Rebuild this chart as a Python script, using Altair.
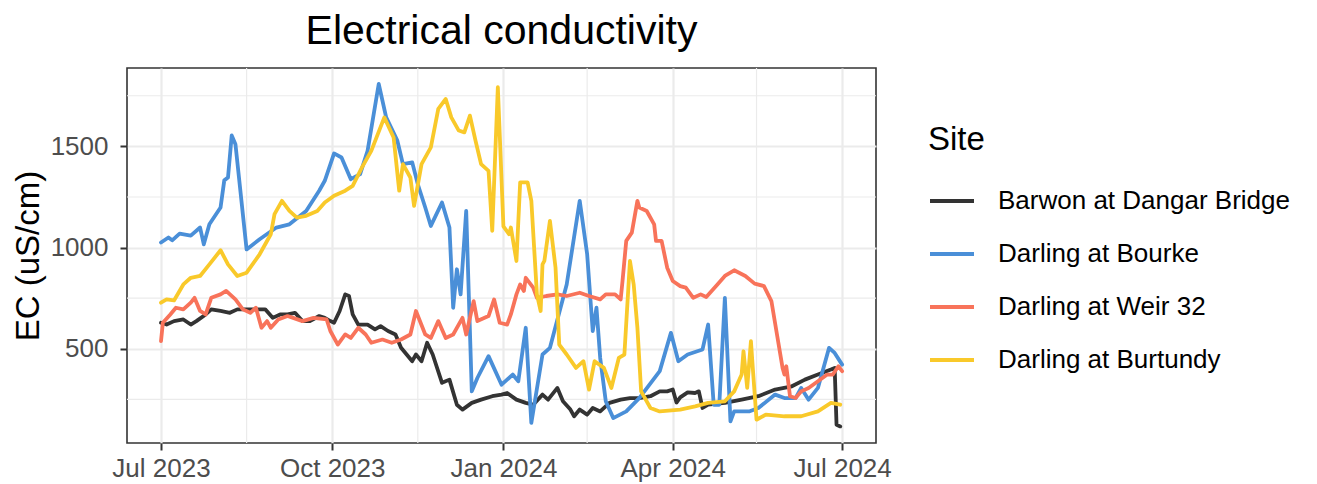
import altair as alt
import pandas as pd

# Days since 2023-07-01 and EC values (uS/cm)
START = "2023-07-01"
sites = ["Barwon at Dangar Bridge", "Darling at Bourke", "Darling at Weir 32", "Darling at Burtundy"]
colors = ["#333333", "#4a8fd8", "#f8735a", "#f9c92a"]

barwon_day = [0, 3, 7, 12, 16, 19, 24, 27, 32, 37, 41, 46, 51, 56, 60, 64, 68, 72, 76, 80,
              85, 88, 91, 93, 96, 99, 101, 103, 106, 111, 115, 118, 122, 126, 129, 135, 137, 140, 143, 146,
              151, 155, 159, 162, 167, 172, 178, 183, 186, 191, 196, 200, 205, 208, 213, 216, 220, 222, 225, 229,
              232, 236, 241, 247, 252, 257, 263, 268, 272, 275, 277, 279, 283, 287, 289, 291, 294, 303, 312, 321,
              330, 339, 346, 353, 360, 362, 363, 365]
barwon_ec = [629, 620, 637, 645, 620, 637, 670, 695, 687, 678, 695, 695, 695, 695, 653, 670, 670, 678, 637, 637,
             662, 653, 637, 629, 687, 769, 761, 670, 620, 620, 596, 612, 588, 571, 505, 439, 472, 439, 530, 472,
             332, 348, 224, 200, 233, 249, 266, 274, 282, 249, 233, 224, 274, 249, 307, 241, 200, 167, 200, 175,
             208, 191, 233, 249, 257, 257, 266, 290, 290, 299, 235, 260, 285, 282, 290, 208, 224, 233, 249, 266,
             299, 315, 348, 373, 398, 406, 125, 117]

bourke_day = [0, 4, 6, 10, 16, 21, 23, 26, 32, 34, 36, 38, 40, 46, 53, 62, 69, 78, 85, 88,
              93, 97, 102, 107, 111, 117, 121, 127, 130, 135, 138, 142, 145, 151, 155, 157, 159, 161, 164, 167,
              170, 176, 183, 189, 192, 196, 199, 205, 209, 218, 225, 229, 232, 234, 236, 239, 243, 250, 257, 268,
              274, 278, 283, 291, 294, 297, 300, 303, 306, 308, 316, 321, 330, 335, 341, 344, 348, 353, 359, 362,
              366]
bourke_ec = [1025, 1050, 1036, 1069, 1059, 1099, 1016, 1115, 1198, 1332, 1346, 1554, 1511, 991, 1041, 1099, 1115, 1181, 1281, 1330,
             1465, 1445, 1338, 1363, 1478, 1808, 1643, 1528, 1412, 1421, 1313, 1198, 1107, 1223, 1099, 703, 893, 769, 1181, 290,
             356, 464, 323, 373, 340, 604, 134, 472, 505, 818, 1231, 967, 588, 703, 455, 241, 158, 191, 257, 390,
             579, 439, 472, 497, 620, 224, 224, 752, 142, 191, 191, 208, 274, 257, 257, 307, 249, 307, 505, 480,
             422]

weir_day = [0, 1, 5, 8, 12, 16, 18, 21, 24, 27, 32, 35, 40, 44, 48, 51, 54, 57, 59, 63,
            68, 71, 76, 82, 89, 91, 95, 99, 102, 106, 110, 113, 119, 124, 129, 134, 137, 142, 145, 149,
            153, 157, 162, 164, 168, 170, 176, 179, 182, 186, 188, 191, 193, 195, 196, 200, 202, 207, 213, 218,
            225, 230, 236, 239, 244, 247, 248, 250, 253, 256, 257, 261, 265, 266, 269, 272, 275, 279, 282, 286,
            290, 293, 299, 303, 308, 314, 319, 324, 328, 331, 334, 335, 336, 338, 341, 344, 348, 353, 358, 361,
            364, 366]
weir_ec = [538, 629, 670, 703, 695, 728, 752, 687, 670, 752, 769, 786, 744, 695, 678, 703, 604, 637, 604, 645,
           662, 653, 637, 653, 645, 588, 521, 571, 554, 604, 571, 530, 546, 530, 546, 571, 687, 571, 554, 637,
           554, 571, 653, 571, 736, 637, 662, 744, 629, 620, 670, 769, 818, 786, 851, 802, 752, 761, 769, 761,
           777, 761, 744, 769, 769, 744, 835, 1033, 1074, 1231, 1198, 1181, 1115, 1033, 1033, 901, 835, 810, 802, 752,
           769, 756, 818, 860, 888, 860, 822, 810, 736, 571, 406, 373, 414, 266, 257, 290, 307, 340, 373, 373,
           414, 390]

burtundy_day = [0, 3, 7, 12, 16, 21, 26, 32, 36, 41, 46, 53, 59, 61, 65, 69, 73, 78, 84, 88,
                93, 99, 103, 108, 113, 120, 125, 128, 130, 134, 136, 140, 145, 149, 153, 156, 160, 163, 166, 169,
                172, 176, 178, 181, 184, 187, 188, 191, 193, 197, 199, 202, 204, 205, 206, 209, 212, 214, 218, 223,
                227, 230, 233, 238, 242, 246, 249, 252, 254, 256, 258, 263, 268, 279, 287, 294, 303, 308, 312, 313,
                315, 317, 318, 320, 325, 335, 344, 353, 360, 365]
burtundy_ec = [728, 744, 739, 818, 851, 860, 917, 987, 917, 860, 876, 967, 1066, 1165, 1231, 1181, 1148, 1157, 1181, 1223,
               1256, 1281, 1305, 1396, 1478, 1643, 1544, 1281, 1412, 1346, 1206, 1412, 1495, 1685, 1734, 1643, 1578, 1569, 1652, 1528,
               1412, 1379, 1083, 1792, 1105, 1066, 1099, 934, 1322, 1322, 1231, 769, 687, 917, 934, 1132, 901, 521, 472, 406,
               439, 299, 439, 406, 307, 455, 472, 934, 818, 604, 290, 208, 191, 200, 216, 233, 241, 290, 373, 488,
               307, 538, 406, 150, 175, 167, 167, 191, 233, 224]

y_major = [500, 1000, 1500]
y_minor = [250, 750, 1250, 1750]
x_major = ["2023-07-01", "2023-10-01", "2024-01-01", "2024-04-01", "2024-07-01"]
x_minor = ["2023-08-16", "2023-11-16", "2024-02-15", "2024-05-16"]

start = pd.Timestamp(START)
frames = []
for name, days, vals in [(sites[0], barwon_day, barwon_ec), (sites[1], bourke_day, bourke_ec),
                         (sites[2], weir_day, weir_ec), (sites[3], burtundy_day, burtundy_ec)]:
    d = [(start + pd.Timedelta(days=int(k))).strftime("%Y-%m-%d") for k in days]
    frames.append(pd.DataFrame({"date": d, "ec": vals, "site": name}))
df = pd.concat(frames, ignore_index=True)

FONT = "Liberation Sans"
x_dom = [alt.DateTime(year=2023, month=6, date=12, hours=17, minutes=30, utc=True),
         alt.DateTime(year=2024, month=7, date=19, hours=5, utc=True)]
y_dom = [35, 1887]

xs = alt.Scale(type="utc", domain=x_dom, nice=False)
ys = alt.Scale(domain=y_dom, nice=False, zero=False)

x_vals = [alt.DateTime(year=int(s[:4]), month=int(s[5:7]), date=int(s[8:]), utc=True) for s in x_major]

x_axis = alt.Axis(values=x_vals, labelExpr="utcFormat(datum.value, '%b %Y')", labelPadding=5,
                  grid=True, gridColor="#ebebeb", gridWidth=2.2)
y_axis = alt.Axis(values=y_major, format="d", labelPadding=12, titlePadding=5,
                  grid=True, gridColor="#ebebeb", gridWidth=2.2)
Y_TITLE = "EC (uS/cm)"

grid_x = alt.Chart(pd.DataFrame({"date": x_minor})).mark_rule(color="#ebebeb", strokeWidth=1.2).encode(
    x=alt.X("date:T", scale=xs, axis=x_axis, title=None))
grid_y = alt.Chart(pd.DataFrame({"ec": y_minor})).mark_rule(color="#ebebeb", strokeWidth=1.2).encode(
    y=alt.Y("ec:Q", scale=ys, axis=y_axis, title=Y_TITLE))

lines = alt.Chart(df).mark_line(strokeWidth=3.8, strokeJoin="round", strokeCap="round").encode(
    x=alt.X("date:T", scale=xs, axis=x_axis, title=None),
    y=alt.Y("ec:Q", scale=ys, axis=y_axis, title=Y_TITLE),
    color=alt.Color("site:N", scale=alt.Scale(domain=sites, range=colors),
                    legend=alt.Legend(title="Site", orient="none", legendX=801, legendY=56,
                                      symbolType="stroke", symbolSize=1936, symbolStrokeWidth=4,
                                      labelFontSize=26, titleFontSize=33, labelFont=FONT, titleFont=FONT,
                                      titleFontWeight="normal", labelColor="#000000", titleColor="#000000",
                                      titlePadding=20, rowPadding=16, labelOffset=22, labelLimit=400)),
    order=alt.Order("date:T"),
    detail="site:N",
)

chart = alt.layer(grid_x, grid_y, lines).properties(
    width=749, height=375,
    title=alt.TitleParams("Electrical conductivity", fontSize=41, font=FONT, fontWeight="normal",
                          anchor="middle", color="#000000", offset=14),
    padding={"left": 119, "top": 60, "right": 428, "bottom": 44},
    autosize=alt.AutoSizeParams(type="none"),
).configure_view(
    stroke="#333333", strokeWidth=1.6
).configure_axis(
    domain=False, tickColor="#333333", tickWidth=2, tickSize=7,
    labelFont=FONT, labelFontSize=26, labelColor="#4d4d4d",
    titleFont=FONT, titleFontSize=33, titleFontWeight="normal", titleColor="#000000",
)

chart.save("out.html", embed_options={"renderer": "svg", "actions": False})
